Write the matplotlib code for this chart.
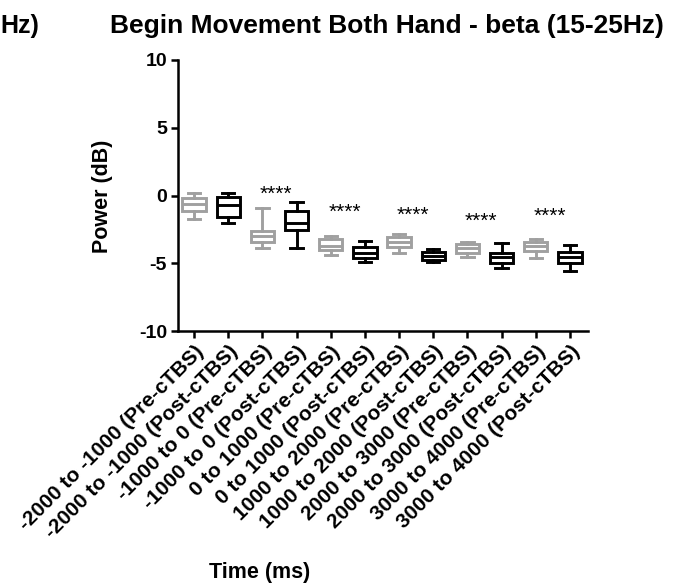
import matplotlib
matplotlib.use("Agg")
import matplotlib.pyplot as plt

plt.rcParams['font.family'] = ['Liberation Sans', 'DejaVu Sans']
plt.rcParams['font.weight'] = 'bold'
plt.rcParams['axes.unicode_minus'] = False

# Time windows and condition labels
categories = [
    "-2000 to -1000 (Pre-cTBS)", "-2000 to -1000 (Post-cTBS)",
    "-1000 to 0 (Pre-cTBS)", "-1000 to 0 (Post-cTBS)",
    "0 to 1000 (Pre-cTBS)", "0 to 1000 (Post-cTBS)",
    "1000 to 2000 (Pre-cTBS)", "1000 to 2000 (Post-cTBS)",
    "2000 to 3000 (Pre-cTBS)", "2000 to 3000 (Post-cTBS)",
    "3000 to 4000 (Pre-cTBS)", "3000 to 4000 (Post-cTBS)",
]

# Box-plot summary statistics (dB)
whisker_low = [-1.76, -2.00, -3.85, -3.90, -4.39, -4.93, -4.27, -4.88, -4.52, -5.33, -4.64, -5.55]
q1          = [-1.17, -1.56, -3.41, -2.55, -4.02, -4.64, -3.78, -4.76, -4.22, -5.00, -4.10, -5.00]
median      = [-0.65, -0.68, -2.96, -2.05, -3.70, -4.27, -3.41, -4.46, -3.90, -4.56, -3.73, -4.56]
q3          = [-0.18, -0.09, -2.62, -1.14, -3.23, -3.78, -3.09, -4.15, -3.60, -4.22, -3.45, -4.15]
whisker_high = [0.16,  0.15, -0.95, -0.50, -2.97, -3.33, -2.84, -3.95, -3.41, -3.53, -3.23, -3.65]

# Significance markers between paired boxes
sig_pairs = [(3, 4), (5, 6), (7, 8), (9, 10), (11, 12)]
sig_text = ["****", "****", "****", "****", "****"]
sig_y = [0.10, -1.25, -1.50, -1.90, -1.55]

colors = ["#a0a0a0", "#000000"] * 6

fig = plt.figure(figsize=(6.81, 5.87), dpi=100)
ax = fig.add_axes([178 / 681, 1 - 331 / 587, 410 / 681, 271 / 587])

positions = list(range(1, len(categories) + 1))
stats = []
for i in range(len(categories)):
    stats.append(dict(whislo=whisker_low[i], q1=q1[i], med=median[i],
                      q3=q3[i], whishi=whisker_high[i], fliers=[]))

lw = 2.1
for i, s in enumerate(stats):
    c = colors[i]
    ax.bxp([s], positions=[positions[i]], widths=0.68, showfliers=False,
           patch_artist=True,
           boxprops=dict(facecolor="white", edgecolor=c, linewidth=lw),
           medianprops=dict(color=c, linewidth=lw),
           whiskerprops=dict(color=c, linewidth=lw),
           capprops=dict(color=c, linewidth=lw),
           capwidths=0.36)

for (a, b), t, y in zip(sig_pairs, sig_text, sig_y):
    ax.text((a + b) / 2 - 0.1, y, t, ha="center", va="center",
            fontsize=15, fontweight="normal")

ax.set_ylim(-10, 10)
ax.set_xlim(0.53, 12.53)
ax.set_yticks([-10, -5, 0, 5, 10])
ax.set_xticks(positions)
ax.set_xticklabels(categories, rotation=45, ha="right", rotation_mode="anchor",
                   fontsize=15, fontweight="bold")
for lab in ax.get_yticklabels():
    lab.set_fontsize(14)
    lab.set_fontweight("bold")

for side in ["top", "right"]:
    ax.spines[side].set_visible(False)
for side in ["left", "bottom"]:
    ax.spines[side].set_linewidth(1.8)
ax.tick_params(axis="both", direction="out", length=5, width=1.8, pad=3)

fig.text(102.5 / 681, 1 - 196 / 587, "Power (dB)", rotation=90, ha="center",
         va="center", fontsize=15.5, fontweight="bold")
fig.text(260 / 681, 1 - 578 / 587, "Time (ms)", ha="center", va="baseline",
         fontsize=15.5, fontweight="bold")
fig.text(110 / 681, 1 - 33 / 587, "Begin Movement Both Hand - beta (15-25Hz)",
         ha="left", va="baseline", fontsize=19, fontweight="bold")
fig.text(0.5 / 681, 1 - 33 / 587, "Hz)", ha="left", va="baseline",
         fontsize=18, fontweight="bold")

fig.savefig("out.png", dpi=100)
